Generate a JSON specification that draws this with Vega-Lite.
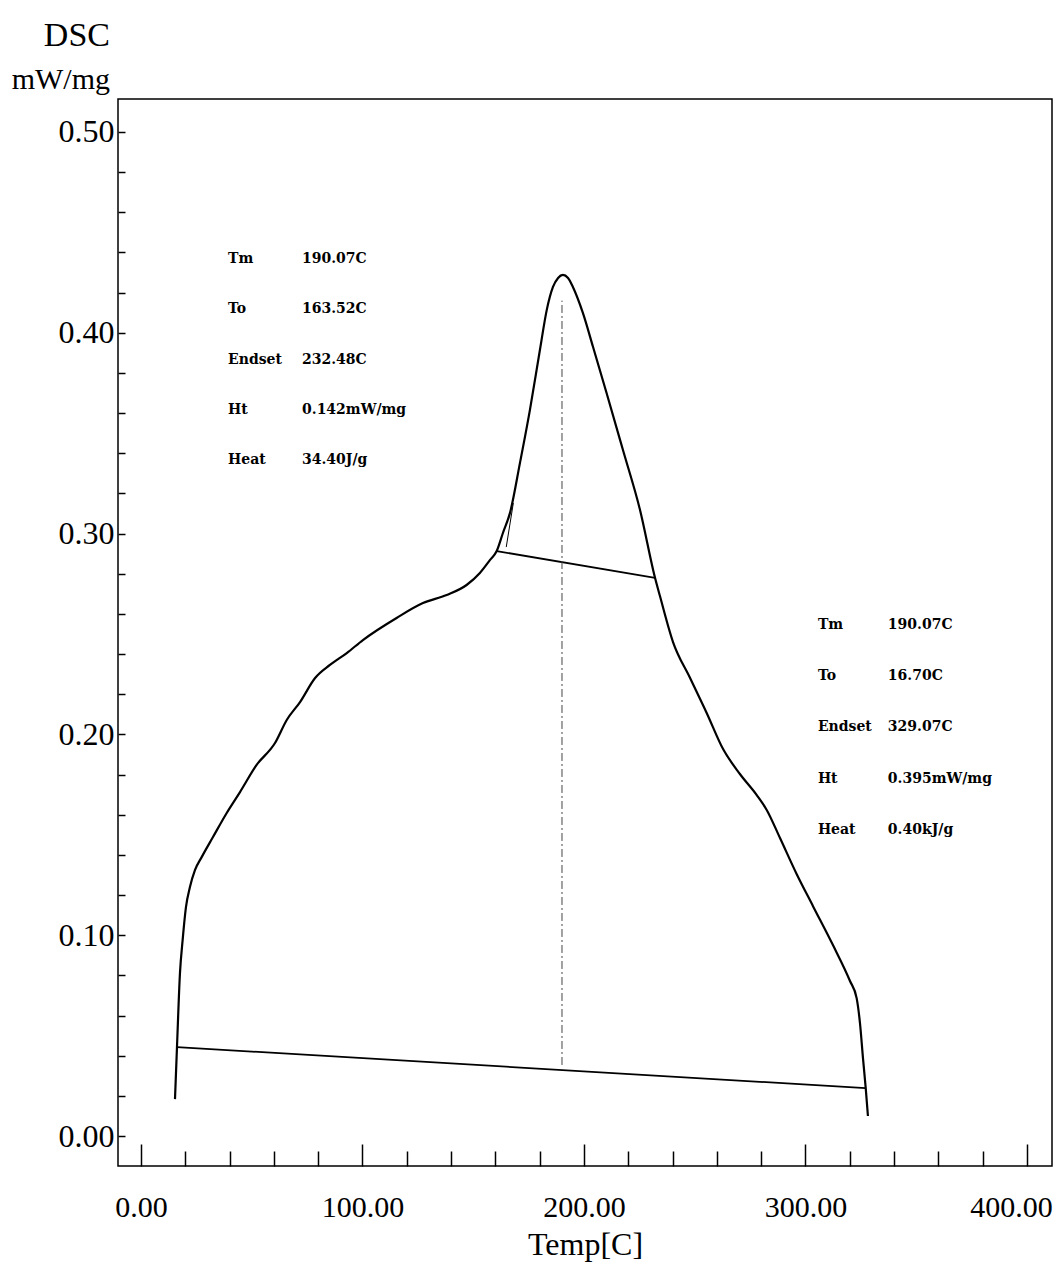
{
  "$schema": "https://vega.github.io/schema/vega-lite/v6.json",
  "width": 934,
  "height": 1067,
  "autosize": {"type": "none"},
  "padding": {"left": 118, "top": 99, "right": 6, "bottom": 114},
  "background": "white",
  "config": {
    "view": {"stroke": "black", "strokeWidth": 1.5},
    "axis": {"grid": false, "domain": false, "tickColor": "black", "tickWidth": 1.5, "labelColor": "black", "titleColor": "black", "labelFont": "Liberation Serif", "titleFont": "Liberation Serif", "titleFontWeight": "normal"}
  },
  "title": {
    "text": "DSC",
    "subtitle": "mW/mg",
    "anchor": "start",
    "align": "right",
    "dx": -8,
    "frame": "group",
    "font": "Liberation Serif",
    "fontSize": 34,
    "fontWeight": "normal",
    "color": "black",
    "subtitleFont": "Liberation Serif",
    "subtitleFontSize": 30,
    "subtitleColor": "black",
    "subtitlePadding": 12,
    "offset": 4
  },
  "datasets": {
    "curve": [
      {"T": 15.35, "v": 0.0184},
      {"T": 16.25, "v": 0.0443},
      {"T": 17.6, "v": 0.0812},
      {"T": 18.8, "v": 0.0976},
      {"T": 20.3, "v": 0.114},
      {"T": 22.1, "v": 0.124},
      {"T": 24.4, "v": 0.1325},
      {"T": 27.4, "v": 0.1389},
      {"T": 32.5, "v": 0.1489},
      {"T": 38.7, "v": 0.1609},
      {"T": 44.7, "v": 0.1713},
      {"T": 52.2, "v": 0.1848},
      {"T": 60.5, "v": 0.1957},
      {"T": 65.8, "v": 0.2072},
      {"T": 71.8, "v": 0.2161},
      {"T": 78.6, "v": 0.2281},
      {"T": 85.3, "v": 0.2346},
      {"T": 92.9, "v": 0.2405},
      {"T": 100.2, "v": 0.247},
      {"T": 115.4, "v": 0.258},
      {"T": 127.3, "v": 0.2654},
      {"T": 138.0, "v": 0.2694},
      {"T": 147.0, "v": 0.2744},
      {"T": 153.0, "v": 0.2804},
      {"T": 157.6, "v": 0.2869},
      {"T": 160.6, "v": 0.2913},
      {"T": 163.4, "v": 0.3003},
      {"T": 166.6, "v": 0.3103},
      {"T": 171.1, "v": 0.3352},
      {"T": 175.6, "v": 0.3616},
      {"T": 180.1, "v": 0.3914},
      {"T": 183.2, "v": 0.4114},
      {"T": 186.0, "v": 0.4228},
      {"T": 188.3, "v": 0.4273},
      {"T": 190.5, "v": 0.4288},
      {"T": 192.8, "v": 0.4273},
      {"T": 195.0, "v": 0.4228},
      {"T": 199.5, "v": 0.4099},
      {"T": 204.1, "v": 0.3929},
      {"T": 210.2, "v": 0.37},
      {"T": 217.6, "v": 0.3416},
      {"T": 225.3, "v": 0.3118},
      {"T": 232.1, "v": 0.2779},
      {"T": 234.3, "v": 0.2689},
      {"T": 240.2, "v": 0.246},
      {"T": 247.9, "v": 0.2281},
      {"T": 255.4, "v": 0.2107},
      {"T": 262.8, "v": 0.1927},
      {"T": 270.4, "v": 0.1803},
      {"T": 278.0, "v": 0.1698},
      {"T": 282.5, "v": 0.1624},
      {"T": 288.5, "v": 0.1484},
      {"T": 296.0, "v": 0.1305},
      {"T": 303.4, "v": 0.1145},
      {"T": 312.4, "v": 0.0951},
      {"T": 320.1, "v": 0.0772},
      {"T": 323.1, "v": 0.0687},
      {"T": 324.6, "v": 0.0563},
      {"T": 326.0, "v": 0.0383},
      {"T": 327.2, "v": 0.0239},
      {"T": 328.2, "v": 0.01}
    ],
    "baselines": [
      {"series": "main", "T": 16.25, "v": 0.0443},
      {"series": "main", "T": 327.2, "v": 0.0239},
      {"series": "peak", "T": 160.6, "v": 0.2913},
      {"series": "peak", "T": 232.1, "v": 0.2779}
    ],
    "tangent": [
      {"T": 164.9, "v": 0.2933},
      {"T": 168.1, "v": 0.3152}
    ],
    "tm": [
      {"T": 190.07, "v": 0.0354, "v2": 0.416}
    ],
    "notes": [
      {"T": 39.3, "v": 0.4367, "text": "Tm"},
      {"T": 72.7, "v": 0.4367, "text": "190.07C"},
      {"T": 39.3, "v": 0.4119, "text": "To"},
      {"T": 72.7, "v": 0.4119, "text": "163.52C"},
      {"T": 39.3, "v": 0.3865, "text": "Endset"},
      {"T": 72.7, "v": 0.3865, "text": "232.48C"},
      {"T": 39.3, "v": 0.3616, "text": "Ht"},
      {"T": 72.7, "v": 0.3616, "text": "0.142mW/mg"},
      {"T": 39.3, "v": 0.3367, "text": "Heat"},
      {"T": 72.7, "v": 0.3367, "text": "34.40J/g"},
      {"T": 305.6, "v": 0.2545, "text": "Tm"},
      {"T": 337.2, "v": 0.2545, "text": "190.07C"},
      {"T": 305.6, "v": 0.2291, "text": "To"},
      {"T": 337.2, "v": 0.2291, "text": "16.70C"},
      {"T": 305.6, "v": 0.2037, "text": "Endset"},
      {"T": 337.2, "v": 0.2037, "text": "329.07C"},
      {"T": 305.6, "v": 0.1778, "text": "Ht"},
      {"T": 337.2, "v": 0.1778, "text": "0.395mW/mg"},
      {"T": 305.6, "v": 0.1524, "text": "Heat"},
      {"T": 337.2, "v": 0.1524, "text": "0.40kJ/g"}
    ]
  },
  "encoding": {
    "x": {
      "field": "T",
      "type": "quantitative",
      "scale": {"domain": [-10.38, 411.3], "nice": false, "zero": false},
      "axis": {
        "title": "Temp[C]",
        "titleFontSize": 32,
        "titlePadding": 0,
        "values": [0, 20, 40, 60, 80, 100, 120, 140, 160, 180, 200, 220, 240, 260, 280, 300, 320, 340, 360, 380, 400],
        "labelExpr": "datum.value % 100 === 0 ? format(datum.value, '.2f') : ''",
        "labelFontSize": 30,
        "labelPadding": 48,
        "labelFlush": false,
        "labelOverlap": false,
        "labelOffset": {"condition": {"test": "datum.value === 400", "value": -16}, "value": 0},
        "tickSize": {"condition": {"test": "datum.value % 100 === 0", "value": -22}, "value": -15}
      }
    },
    "y": {
      "field": "v",
      "type": "quantitative",
      "scale": {"domain": [-0.0149, 0.5164], "nice": false, "zero": false},
      "axis": {
        "title": null,
        "values": [0, 0.02, 0.04, 0.06, 0.08, 0.1, 0.12, 0.14, 0.16, 0.18, 0.2, 0.22, 0.24, 0.26, 0.28, 0.3, 0.32, 0.34, 0.36, 0.38, 0.4, 0.42, 0.44, 0.46, 0.48, 0.5],
        "labelExpr": "abs(datum.value * 10 - round(datum.value * 10)) < 0.001 ? format(datum.value, '.2f') : ''",
        "labelFontSize": 32,
        "labelPadding": 11,
        "labelFlush": false,
        "labelOverlap": false,
        "tickSize": -7
      }
    }
  },
  "layer": [
    {
      "data": {"name": "curve"},
      "mark": {"type": "line", "color": "black", "strokeWidth": 2.2, "interpolate": "monotone"}
    },
    {
      "data": {"name": "baselines"},
      "mark": {"type": "line", "color": "black", "strokeWidth": 1.8},
      "encoding": {"detail": {"field": "series"}}
    },
    {
      "data": {"name": "tangent"},
      "mark": {"type": "line", "color": "black", "strokeWidth": 1}
    },
    {
      "data": {"name": "tm"},
      "mark": {"type": "rule", "color": "#444444", "strokeWidth": 1, "strokeDash": [8, 3, 2, 3]},
      "encoding": {"y2": {"field": "v2"}}
    },
    {
      "data": {"name": "notes"},
      "mark": {"type": "text", "align": "left", "baseline": "middle", "font": "DejaVu Serif", "fontSize": 14, "fontWeight": "bold", "color": "black"},
      "encoding": {"text": {"field": "text"}}
    }
  ]
}
